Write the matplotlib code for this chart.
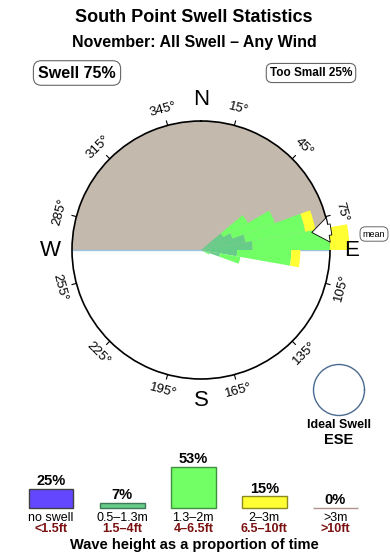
import numpy as np
import matplotlib
matplotlib.use("Agg")
import matplotlib.pyplot as plt

plt.rcParams['font.family'] = ['Liberation Sans', 'DejaVu Sans']

W_PX, H_PX = 390, 560

title = "South Point Swell Statistics"
subtitle = "November: All Swell \u2013 Any Wind"
swell_pct = 75
too_small_pct = 25
ideal_dir = "ESE"

# rose: bin centres (compass deg) and stacked radii (fraction of outer circle)
dir_bins = [55, 65, 75, 85, 95, 105, 115]
r_small = [0.20, 0.26, 0.35, 0.40, 0.28, 0.15, 0.03]   # 0.5-1.3m
r_mid = [0.22, 0.35, 0.47, 0.60, 0.42, 0.16, 0.04]     # 1.3-2m
r_big = [0.00, 0.00, 0.08, 0.15, 0.07, 0.00, 0.00]     # 2-3m
bin_width = 10
mean_dir = 81

tick_dirs = [15, 45, 75, 105, 135, 165, 195, 225, 255, 285, 315, 345]
compass = [("N", 0), ("E", 90), ("S", 180), ("W", 270)]

# wave height legend
size_labels = ["no swell", "0.5\u20131.3m", "1.3\u20132m", "2\u20133m", ">3m"]
size_ft = ["<1.5ft", "1.5\u20134ft", "4\u20136.5ft", "6.5\u201310ft", ">10ft"]
size_pct = [25, 7, 53, 15, 0]
size_colors = ["#6347ff", "#66cc88", "#72ff66", "#ffff33", "#c8b0a8"]
size_edges = ["#404040", "#3d7a55", "#3f8f3f", "#8a8a20", "#b0948c"]


def fx(x):
    return x / W_PX


def fy(y):
    return 1 - y / H_PX


fig = plt.figure(figsize=(W_PX / 100, H_PX / 100), dpi=100)

fig.text(fx(194), fy(18), title, ha='center', va='center', fontsize=13, fontweight='bold')
fig.text(fx(194), fy(43), subtitle, ha='center', va='center', fontsize=11.5, fontweight='bold')
box = dict(boxstyle='round,pad=0.3,rounding_size=0.5', fc='white', ec='#666666', lw=0.8)
fig.text(fx(77), fy(73), f"Swell {swell_pct}%", ha='center', va='center',
         fontsize=11.5, fontweight='bold', bbox=box)
fig.text(fx(311), fy(73), f"Too Small {too_small_pct}%", ha='center', va='center',
         fontsize=8.5, fontweight='bold', bbox=box)

# --- swell rose ---
cx, cy, R = 201, 250, 129
ax = fig.add_axes([fx(cx - R), fy(cy + R), 2 * R / W_PX, 2 * R / H_PX], projection='polar')
ax.set_theta_zero_location('N')
ax.set_theta_direction(-1)
ax.set_ylim(0, 1)
ax.set_xticks([])
ax.set_yticks([])
ax.grid(False)
ax.spines['polar'].set_linewidth(1.2)

# shadowed northern half
ax.bar(0, 1, width=np.pi, color='#c4b9ad', linewidth=0, zorder=1)
ax.plot(np.deg2rad([270, 0, 90]), [1, 0, 1], color='#9ec3dc', lw=1, zorder=2)

th = np.deg2rad(dir_bins)
wd = np.deg2rad(bin_width)
bottom = np.zeros(len(dir_bins))
for radii, col in [(r_small, '#66cc88'), (r_mid, '#72ff66'), (r_big, '#ffff33')]:
    bars = ax.bar(th, radii, width=wd, bottom=bottom, color=col, linewidth=0, zorder=3)
    for b in bars:
        b.set_clip_on(False)
    bottom = bottom + np.array(radii)

for d in tick_dirs:
    t = np.deg2rad(d)
    ax.plot([t, t], [1.0, 1.035], color='black', lw=0.8, clip_on=False)
    rot = ((-d + 90) % 180) - 90
    ax.text(t, 1.13, f"{d}\u00b0", rotation=rot, rotation_mode='anchor',
            ha='center', va='center', fontsize=9.5)

for name, d in compass:
    ax.text(np.deg2rad(d), 1.17, name, ha='center', va='center', fontsize=16)

arr = ax.annotate('', xy=(np.deg2rad(mean_dir), 0.87), xytext=(np.deg2rad(mean_dir), 1.02),
                  arrowprops=dict(arrowstyle='simple,head_length=0.6,head_width=0.9,tail_width=0.4',
                                  fc='white', ec='black', lw=0.6, mutation_scale=20,
                                  shrinkA=0, shrinkB=0),
                  annotation_clip=False)
arr.arrow_patch.set_zorder(6)
fig.text(fx(374), fy(234), "mean", ha='center', va='center', fontsize=6.5,
         bbox=dict(boxstyle='round,pad=0.3,rounding_size=0.6', fc='white', ec='#666666', lw=0.7))

# --- ideal swell marker ---
ax2 = fig.add_axes([fx(313.5), fy(415.5), 51 / W_PX, 51 / H_PX], projection='polar')
ax2.set_xticks([])
ax2.set_yticks([])
ax2.grid(False)
ax2.spines['polar'].set_edgecolor('#4a6a90')
ax2.spines['polar'].set_linewidth(1)
fig.text(fx(339), fy(425), "Ideal Swell", ha='center', va='center', fontsize=9, fontweight='bold')
fig.text(fx(339), fy(440), ideal_dir, ha='center', va='center', fontsize=10.5, fontweight='bold')

# --- wave height bars ---
px_per_pct = 0.774
bx = fig.add_axes([fx(15.5), fy(508), 355.5 / W_PX, 68 / H_PX])
bx.set_xlim(-0.5, 4.5)
bx.set_ylim(0, 68 / px_per_pct)
bx.axis('off')
bx.bar(range(len(size_pct)), size_pct, width=0.63, color=size_colors,
       edgecolor=size_edges, linewidth=1, clip_on=False)
for i, v in enumerate(size_pct):
    bx.text(i, v + 5, f"{v}%", ha='center', va='baseline', fontsize=10.5, fontweight='bold')
    bx.text(i, -12.9, size_labels[i], ha='center', va='center', fontsize=9, clip_on=False)
    bx.text(i, -27.1, size_ft[i], ha='center', va='center', fontsize=9,
            fontweight='bold', color='#7a1010', clip_on=False)

fig.text(fx(194), fy(545), "Wave height as a proportion of time", ha='center', va='center',
         fontsize=10.5, fontweight='bold')

fig.savefig("out.png", dpi=100)
